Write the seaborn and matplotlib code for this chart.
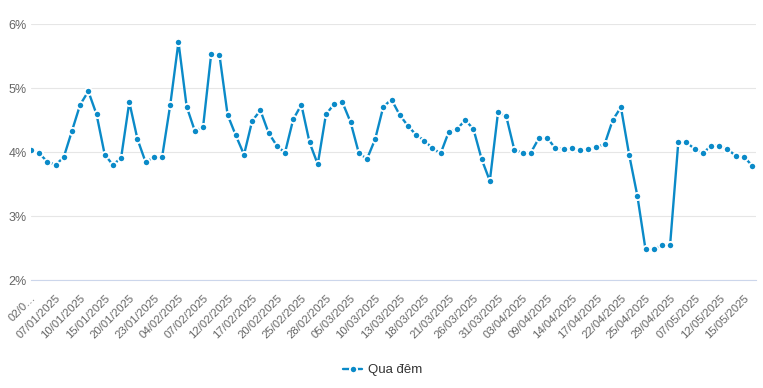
import pandas as pd
import matplotlib
matplotlib.use("Agg")
import matplotlib.pyplot as plt
import seaborn as sns
from matplotlib.lines import Line2D

# ngày giao dịch
dates = [
    "02/01/2025", "03/01/2025", "06/01/2025", "07/01/2025", "08/01/2025", "09/01/2025",
    "10/01/2025", "13/01/2025", "14/01/2025", "15/01/2025", "16/01/2025", "17/01/2025",
    "20/01/2025", "21/01/2025", "22/01/2025", "23/01/2025", "24/01/2025", "03/02/2025",
    "04/02/2025", "05/02/2025", "06/02/2025", "07/02/2025", "10/02/2025", "11/02/2025",
    "12/02/2025", "13/02/2025", "14/02/2025", "17/02/2025", "18/02/2025", "19/02/2025",
    "20/02/2025", "21/02/2025", "24/02/2025", "25/02/2025", "26/02/2025", "27/02/2025",
    "28/02/2025", "03/03/2025", "04/03/2025", "05/03/2025", "06/03/2025", "07/03/2025",
    "10/03/2025", "11/03/2025", "12/03/2025", "13/03/2025", "14/03/2025", "17/03/2025",
    "18/03/2025", "19/03/2025", "20/03/2025", "21/03/2025", "24/03/2025", "25/03/2025",
    "26/03/2025", "27/03/2025", "28/03/2025", "31/03/2025", "01/04/2025", "02/04/2025",
    "03/04/2025", "04/04/2025", "08/04/2025", "09/04/2025", "10/04/2025", "11/04/2025",
    "14/04/2025", "15/04/2025", "16/04/2025", "17/04/2025", "18/04/2025", "21/04/2025",
    "22/04/2025", "23/04/2025", "24/04/2025", "25/04/2025", "26/04/2025", "28/04/2025",
    "29/04/2025", "05/05/2025", "06/05/2025", "07/05/2025", "08/05/2025", "09/05/2025",
    "12/05/2025", "13/05/2025", "14/05/2025", "15/05/2025", "16/05/2025",
]

# lãi suất qua đêm (%)
overnight = [
    4.04, 3.98, 3.85, 3.80, 3.92, 4.33, 4.74, 4.95, 4.59, 3.96,
    3.80, 3.91, 4.78, 4.20, 3.84, 3.92, 3.92, 4.74, 5.72, 4.71,
    4.33, 4.39, 5.54, 5.52, 4.58, 4.26, 3.96, 4.49, 4.65, 4.30,
    4.10, 3.99, 4.51, 4.74, 4.15, 3.81, 4.59, 4.75, 4.78, 4.47,
    3.99, 3.89, 4.20, 4.71, 4.82, 4.58, 4.41, 4.27, 4.18, 4.06,
    3.98, 4.32, 4.36, 4.50, 4.36, 3.89, 3.55, 4.62, 4.56, 4.03,
    3.99, 3.99, 4.22, 4.22, 4.06, 4.05, 4.06, 4.03, 4.05, 4.08,
    4.12, 4.50, 4.70, 3.96, 3.32, 2.48, 2.48, 2.55, 2.55, 4.15,
    4.15, 4.05, 3.98, 4.10, 4.10, 4.05, 3.94, 3.93, 3.79,
]

y_ticks = [2, 3, 4, 5, 6]
series_name = "Qua đêm"

color = "#0a8ac8"

sns.set_style("white")
plt.rcParams["font.family"] = ["Liberation Sans", "DejaVu Sans"]

df = pd.DataFrame({"Ngày": dates, "Lãi suất": overnight})
df["idx"] = range(len(df))

fig = plt.figure(figsize=(7.63, 3.88), dpi=100)
ax = fig.add_axes([0.0406, 0.278, 0.9504, 0.66])

sns.lineplot(data=df, x="idx", y="Lãi suất", ax=ax, color=color, linewidth=1.7,
             marker="o", markersize=5.2, markeredgecolor="white", markeredgewidth=1.3,
             zorder=3)

ax.set_xlim(0, len(dates) - 0.5)
ax.set_ylim(2, 6)
ax.set_yticks(y_ticks)
ax.set_yticklabels([f"{v}%" for v in y_ticks], color="#666666", fontsize=9)
ax.tick_params(axis="y", length=0, pad=3)

xt = list(range(0, len(dates), 3))
labels = [dates[i] for i in xt]
labels[0] = "02/0…"
ax.set_xticks(xt)
ax.set_xticklabels(labels, rotation=45, ha="right", rotation_mode="anchor",
                   color="#666666", fontsize=8.2)
ax.tick_params(axis="x", length=7, width=0.8, color="#ccd6eb", pad=2)

ax.grid(axis="y", color="#e6e6e6", linewidth=0.8)
ax.grid(axis="x", visible=False)
for s in ["top", "right", "left"]:
    ax.spines[s].set_visible(False)
ax.spines["bottom"].set_color("#ccd6eb")
ax.spines["bottom"].set_linewidth(0.8)
ax.set_xlabel("")
ax.set_ylabel("")

handle = Line2D([], [], color=color, linewidth=1.7, marker="o", markersize=5.2,
                markeredgecolor="white", markeredgewidth=1.3)
fig.legend([handle], [series_name], loc="center", bbox_to_anchor=(0.502, 0.046),
           frameon=False, fontsize=9.5, handlelength=1.4, handletextpad=0.5,
           labelcolor="#333333")

fig.savefig("out.png", dpi=100)
